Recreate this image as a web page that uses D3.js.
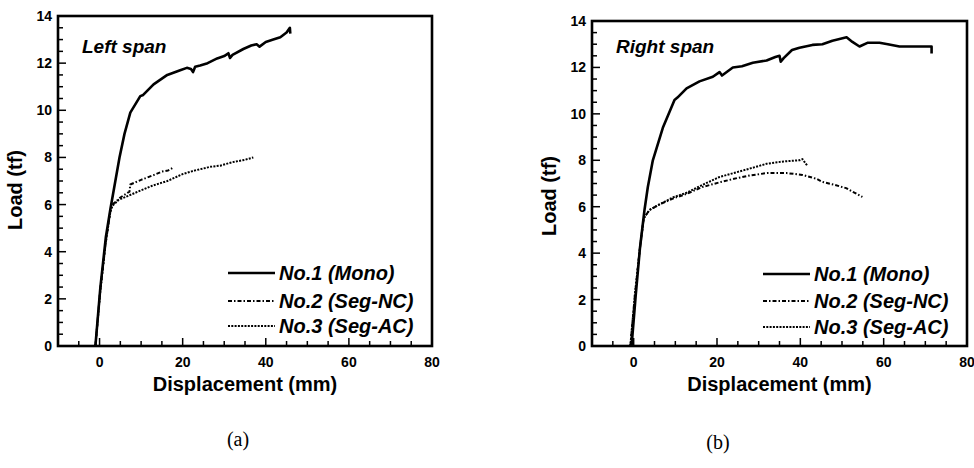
<!DOCTYPE html>
<html>
<head>
<meta charset="utf-8">
<script src="https://cdn.jsdelivr.net/npm/d3@7"></script>
<style>
  body { margin: 0; background: #fff; }
  svg text { font-family: "Liberation Sans", Arial, sans-serif; font-weight: bold; fill: #000; }
  svg text.caption { font-family: "Liberation Serif", "Times New Roman", serif; font-weight: normal; }
</style>
</head>
<body>
<svg id="chart" width="974" height="468"></svg>
<script>
const SERIES = ['No.1 (Mono)', 'No.2 (Seg-NC)', 'No.3 (Seg-AC)']
const X_TICKS = [0, 20, 40, 60, 80]
const Y_TICKS = [0, 2, 4, 6, 8, 10, 12, 14]

// left span, [displacement mm, load tf]
const leftMono = [[-1,0],[0.2,2.5],[1.5,4.6],[2.6,5.8],[3.8,7.0],[4.8,8.0],[6,9],[7.4,9.9],[9.8,10.6],[10.5,10.65],
  [13,11.1],[16.3,11.5],[19.4,11.7],[21,11.8],[22,11.75],[22.5,11.62],[23,11.85],[24.2,11.9],[26,12.0],[28.3,12.2],
  [30,12.3],[31,12.42],[31.4,12.22],[32,12.35],[34.6,12.6],[36.5,12.75],[37.8,12.8],[38.5,12.7],[40,12.9],
  [41.8,13.0],[43.5,13.1],[45,13.3],[45.8,13.5],[45.9,13.25]]
const leftSegNC = [[-1,0],[0.2,2.4],[1.5,4.4],[2.6,5.75],[3.1,6.0],[5,6.3],[7.2,6.55],[7.4,6.85],[10,7.05],
  [13,7.25],[15,7.4],[16.5,7.45],[17.5,7.55]]
const leftSegAC = [[-1,0],[0.2,2.4],[1.5,4.4],[2.6,5.7],[3.1,5.95],[4.6,6.2],[8.6,6.5],[12.7,6.8],[16.3,7.0],
  [20.1,7.3],[23,7.45],[26.6,7.6],[29,7.65],[32,7.8],[35,7.9],[37,8.0]]

// right span
const rightMono = [[-0.5,0],[0.5,2.2],[1.5,4.2],[2.6,5.86],[3.4,6.85],[4.6,8.0],[7,9.4],[9.8,10.6],[10.5,10.7],
  [12.7,11.1],[15.8,11.4],[19,11.6],[20.6,11.8],[21.2,11.65],[23.8,12.0],[26,12.05],[28.6,12.2],[31.9,12.3],
  [34,12.45],[35,12.5],[35.3,12.25],[36,12.4],[38,12.75],[39.8,12.85],[42.9,12.97],[45.3,13.0],[47.7,13.15],
  [51.1,13.3],[52.5,13.1],[54.2,12.9],[56.1,13.06],[59,13.06],[61,13.0],[63.8,12.9],[71.5,12.9],[71.5,12.6]]
const rightSegNC = [[-0.8,0],[0.3,2.2],[1.5,4.2],[2.4,5.5],[3.8,5.86],[6.2,6.1],[9.4,6.35],[12.7,6.55],
  [16.5,6.85],[20.6,7.05],[25,7.24],[28,7.35],[32,7.45],[36.7,7.45],[40.5,7.37],[43.9,7.2],[45.3,7.07],
  [48,6.95],[51,6.8],[54.9,6.42]]
const rightSegAC = [[-0.8,0],[0.3,2.2],[1.5,4.2],[2.4,5.5],[3.8,5.86],[6.2,6.1],[9.4,6.4],[12.7,6.6],
  [16.5,6.94],[20.6,7.28],[25,7.5],[28,7.65],[31.9,7.85],[36,7.95],[39.8,8.0],[40.5,8.05],[41.7,7.76]]

const STYLES = [
  {width: 2.6, dash: null},
  {width: 2, dash: '4,2,1.5,2'},
  {width: 2, dash: '2,1.3'}
]

const svg = d3.select('#chart')

function Panel(opts){
  const x = d3.scaleLinear().domain([-10, 80]).range([opts.x0, opts.x1])
  const y = d3.scaleLinear().domain([0, 14]).range([opts.y1, opts.y0])
  const g = svg.append('g')

  // minor / major ticks, inside the frame
  const xMinor = d3.range(-10, 81, 5)
  g.selectAll('.xt').data(xMinor).enter().append('line')
    .attr('x1', d => x(d)).attr('x2', d => x(d))
    .attr('y1', y(0)).attr('y2', d => y(0) - (d % 20 == 0 ? 8 : 5))
    .attr('stroke', '#000').attr('stroke-width', 1.5)
  const yMinor = d3.range(0, 14.01, 0.5)
  g.selectAll('.yt').data(yMinor).enter().append('line')
    .attr('y1', d => y(d)).attr('y2', d => y(d))
    .attr('x1', x(-10)).attr('x2', d => x(-10) + (d % 2 == 0 ? 8 : 5))
    .attr('stroke', '#000').attr('stroke-width', 1.5)

  g.append('rect')
    .attr('x', x(-10)).attr('y', y(14))
    .attr('width', x(80) - x(-10)).attr('height', y(0) - y(14))
    .attr('fill', 'none').attr('stroke', '#000').attr('stroke-width', 2.6)

  g.selectAll('.xl').data(X_TICKS).enter().append('text')
    .attr('x', d => x(d)).attr('y', y(0) + 21)
    .attr('text-anchor', 'middle').attr('font-size', 14)
    .text(d => d)
  g.selectAll('.yl').data(Y_TICKS).enter().append('text')
    .attr('x', x(-10) - 6).attr('y', d => y(d) + 5)
    .attr('text-anchor', 'end').attr('font-size', 14)
    .text(d => d)

  g.append('text')
    .attr('x', (x(-10) + x(80)) / 2).attr('y', y(0) + 45)
    .attr('text-anchor', 'middle').attr('font-size', 20)
    .text('Displacement (mm)')
  g.append('text')
    .attr('transform', 'translate(' + (x(-10) - 36) + ',' + opts.ylabelY + ') rotate(-90)')
    .attr('text-anchor', 'middle').attr('font-size', 20)
    .text('Load (tf)')

  g.append('text')
    .attr('x', x(-10) + 24).attr('y', 53)
    .attr('font-size', 19).attr('font-style', 'italic')
    .text(opts.title)

  const line = d3.line().x(d => x(d[0])).y(d => y(d[1]))
  opts.data.forEach((s, i) => {
    g.append('path')
      .attr('d', line(s))
      .attr('fill', 'none').attr('stroke', '#000')
      .attr('stroke-width', STYLES[i].width)
      .attr('stroke-dasharray', STYLES[i].dash)
      .attr('stroke-linejoin', 'round')
  })

  // legend
  SERIES.forEach((name, i) => {
    const ly = opts.legendY[i]
    g.append('line')
      .attr('x1', opts.legendX).attr('x2', opts.legendX + 47)
      .attr('y1', ly).attr('y2', ly)
      .attr('stroke', '#000').attr('stroke-width', STYLES[i].width)
      .attr('stroke-dasharray', STYLES[i].dash)
    g.append('text')
      .attr('x', opts.legendX + 51).attr('y', ly + 7)
      .attr('font-size', 20).attr('font-style', 'italic')
      .text(name)
  })

  svg.append('text')
    .attr('class', 'caption')
    .attr('x', opts.capX).attr('y', opts.capY)
    .attr('text-anchor', 'middle').attr('font-size', 20)
    .text(opts.caption)
}

Panel({x0: 58, x1: 432, y0: 16, y1: 346, title: 'Left span', ylabelY: 190,
  data: [leftMono, leftSegNC, leftSegAC], legendX: 228, legendY: [273, 301, 326],
  caption: '(a)', capX: 238, capY: 446})
Panel({x0: 592, x1: 967, y0: 21, y1: 346, title: 'Right span', ylabelY: 196,
  data: [rightMono, rightSegNC, rightSegAC], legendX: 763, legendY: [274, 301, 327],
  caption: '(b)', capX: 718, capY: 449})
</script>
</body>
</html>
